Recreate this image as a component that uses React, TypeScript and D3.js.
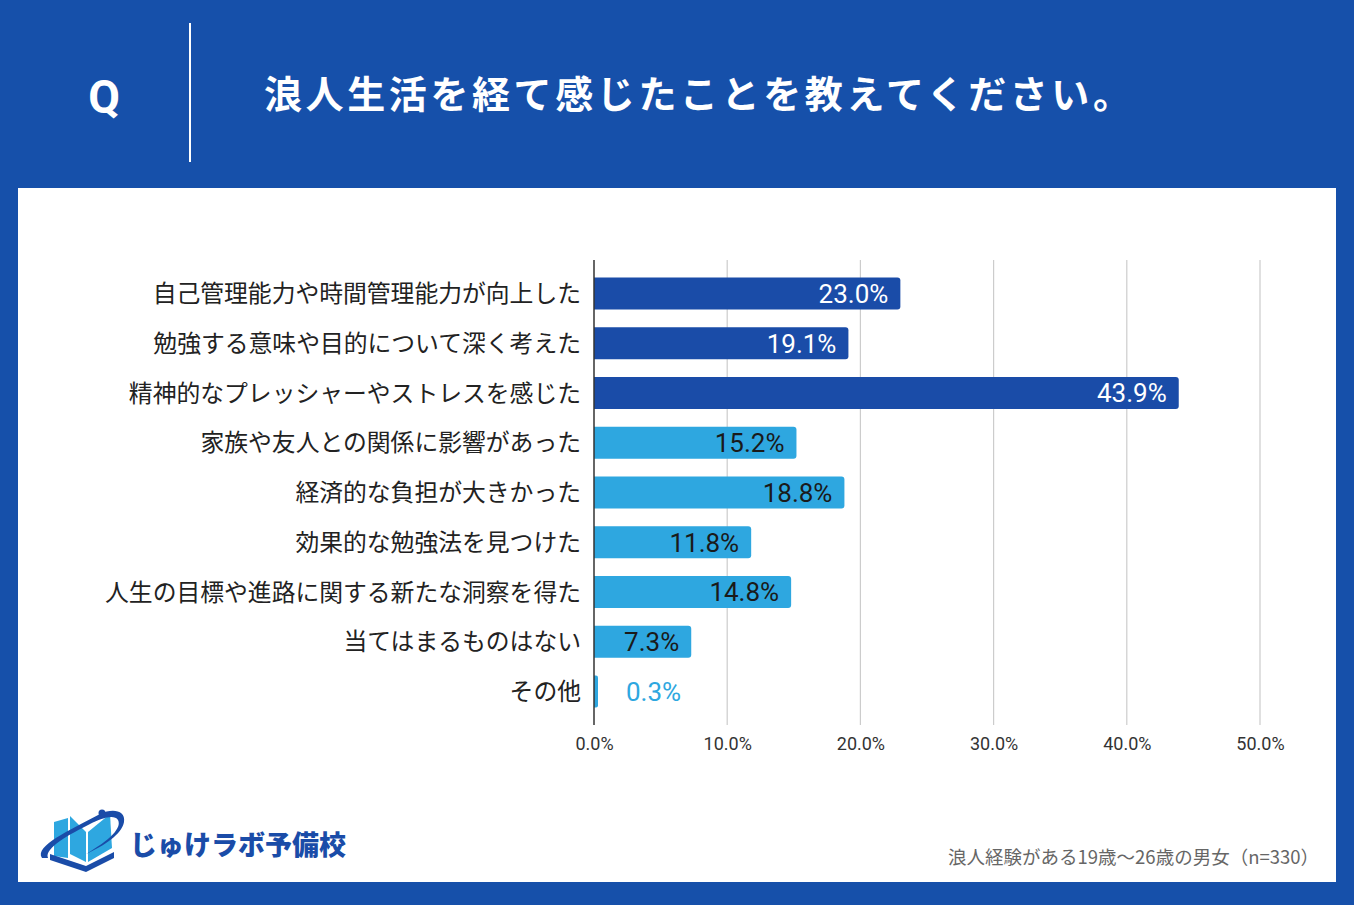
import { useEffect, useRef } from "react"
import * as d3 from "d3"

const categories = [
  "自己管理能力や時間管理能力が向上した",
  "勉強する意味や目的について深く考えた",
  "精神的なプレッシャーやストレスを感じた",
  "家族や友人との関係に影響があった",
  "経済的な負担が大きかった",
  "効果的な勉強法を見つけた",
  "人生の目標や進路に関する新たな洞察を得た",
  "当てはまるものはない",
  "その他",
]
const values = [23.0, 19.1, 43.9, 15.2, 18.8, 11.8, 14.8, 7.3, 0.3]
const darkRows = [true, true, true, false, false, false, false, false, false]
const xTicks = [0, 10, 20, 30, 40, 50]

const title = "浪人生活を経て感じたことを教えてください。"
const footnote = "浪人経験がある19歳～26歳の男女（n=330）"
const brand = "じゅけラボ予備校"

const W = 1354
const H = 905
const BLUE = "#1650aa"
const DARK = "#1a4ca8"
const LIGHT = "#2ea7e0"
const FONT = "'Noto Sans CJK JP', 'Noto Sans', sans-serif"

export default function App() {
  const svgRef = useRef<SVGSVGElement>(null)

  useEffect(() => {
    document.body.style.margin = "0"
    if (!svgRef.current) return
    const svg = d3.select(svgRef.current)
    svg.selectAll("*").remove()

    // background + panel
    svg.append("rect").attr("width", W).attr("height", H).attr("fill", BLUE)
    svg.append("rect").attr("x", 18).attr("y", 188).attr("width", 1318).attr("height", 694).attr("fill", "#fff")

    // header
    svg.append("text")
      .attr("x", 104).attr("y", 113)
      .attr("text-anchor", "middle")
      .attr("fill", "#fff")
      .style("font-family", "Roboto, sans-serif")
      .style("font-weight", "700")
      .style("font-size", "46px")
      .text("Q")
    svg.append("line")
      .attr("x1", 190).attr("x2", 190).attr("y1", 23).attr("y2", 162)
      .attr("stroke", "#fff").attr("stroke-width", 2)
    svg.append("text")
      .attr("x", 264).attr("y", 108)
      .attr("fill", "#fff")
      .style("font-family", FONT)
      .style("font-weight", "700")
      .style("font-size", "38px")
      .style("letter-spacing", "3.6px")
      .text(title)

    // chart
    const margin = { top: 260, left: 594 }
    const plotW = 666
    const plotH = 465

    const x = d3.scaleLinear().domain([0, 50]).range([0, plotW])
    const y = d3.scaleBand<string>().domain(categories).range([0, plotH]).paddingInner(0.357).paddingOuter(0.352)

    const g = svg.append("g").attr("transform", `translate(${margin.left},${margin.top})`)

    // grid
    g.append("g")
      .selectAll("line")
      .data(xTicks.slice(1))
      .enter()
      .append("line")
      .attr("x1", (d) => x(d)).attr("x2", (d) => x(d))
      .attr("y1", 0).attr("y2", plotH)
      .attr("stroke", "#cccccc").attr("stroke-width", 1.2)

    // x axis tick labels
    const xAxis = d3.axisBottom(x).tickValues(xTicks).tickSize(0).tickPadding(12).tickFormat((d) => `${(+d).toFixed(1)}%`)
    const ax = g.append("g").attr("transform", `translate(0,${plotH})`).call(xAxis)
    ax.select(".domain").remove()
    ax.selectAll("text")
      .attr("fill", "#333")
      .style("font-family", "Roboto, 'Noto Sans', sans-serif")
      .style("font-size", "18px")

    // bars
    g.selectAll(".bar")
      .data(values)
      .enter()
      .append("path")
      .attr("class", "bar")
      .attr("fill", (_, i) => (darkRows[i] ? DARK : LIGHT))
      .attr("d", (d, i) => {
        const y0 = y(categories[i]) as number
        const h = y.bandwidth()
        const w = x(d)
        const r = Math.min(3, w / 2)
        return `M0,${y0}H${w - r}Q${w},${y0} ${w},${y0 + r}V${y0 + h - r}Q${w},${y0 + h} ${w - r},${y0 + h}H0Z`
      })

    // y axis line
    g.append("line")
      .attr("x1", 0).attr("x2", 0).attr("y1", 0).attr("y2", plotH)
      .attr("stroke", "#333").attr("stroke-width", 1.5)

    // category labels
    g.selectAll(".cat")
      .data(categories)
      .enter()
      .append("text")
      .attr("x", -13)
      .attr("y", (d) => (y(d) as number) + y.bandwidth() / 2)
      .attr("dy", "0.36em")
      .attr("text-anchor", "end")
      .attr("fill", "#222")
      .style("font-family", FONT)
      .style("font-weight", "400")
      .style("font-size", "23.8px")
      .text((d) => d)

    // value labels
    g.selectAll(".val")
      .data(values)
      .enter()
      .append("text")
      .attr("x", (d) => (x(d) > 60 ? x(d) - 12 : x(d) + 28))
      .attr("y", (_, i) => (y(categories[i]) as number) + y.bandwidth() / 2)
      .attr("dy", "0.36em")
      .attr("text-anchor", (d) => (x(d) > 60 ? "end" : "start"))
      .attr("fill", (d, i) => (x(d) <= 60 ? LIGHT : darkRows[i] ? "#fff" : "#1a1a1a"))
      .style("font-family", "Roboto, 'Noto Sans', sans-serif")
      .style("font-size", "26px")
      .text((d) => `${d.toFixed(1)}%`)

    // footnote
    svg.append("text")
      .attr("x", 1319).attr("y", 864)
      .attr("text-anchor", "end")
      .attr("fill", "#666")
      .style("font-family", FONT)
      .style("font-size", "18.5px")
      .text(footnote)

    // logo
    const logo = svg.append("g").attr("transform", "translate(40,808)")
    logo.append("path")
      .attr("d", "M14,14 L14,48 L28,50 L28,10 Z")
      .attr("fill", LIGHT)
    logo.append("path")
      .attr("d", "M30,8 L46,24 L46,54 L30,46 Z")
      .attr("fill", LIGHT)
    logo.append("path")
      .attr("d", "M48,24 L70,6 L72,40 L48,54 Z")
      .attr("fill", LIGHT)
    logo.append("path")
      .attr("d", "M10,46 L46,58 L74,44 L74,50 L46,64 L10,52 Z")
      .attr("fill", DARK)
    logo.append("path")
      .attr("d", "M2,50 C-6,38 30,22 60,6 C72,0 86,2 84,14 C82,26 64,38 46,46 C70,32 82,20 78,12 C74,6 62,10 50,16 C30,26 4,40 8,50 Z")
      .attr("fill", DARK)
    logo.append("circle").attr("cx", 62).attr("cy", 5).attr("r", 3.5).attr("fill", DARK)
    logo.append("text")
      .attr("x", 90).attr("y", 47)
      .attr("fill", DARK)
      .style("font-family", FONT)
      .style("font-weight", "900")
      .style("font-size", "27px")
      .text(brand)
  }, [])

  return <svg ref={svgRef} width={W} height={H} style={{ display: "block" }} />
}
